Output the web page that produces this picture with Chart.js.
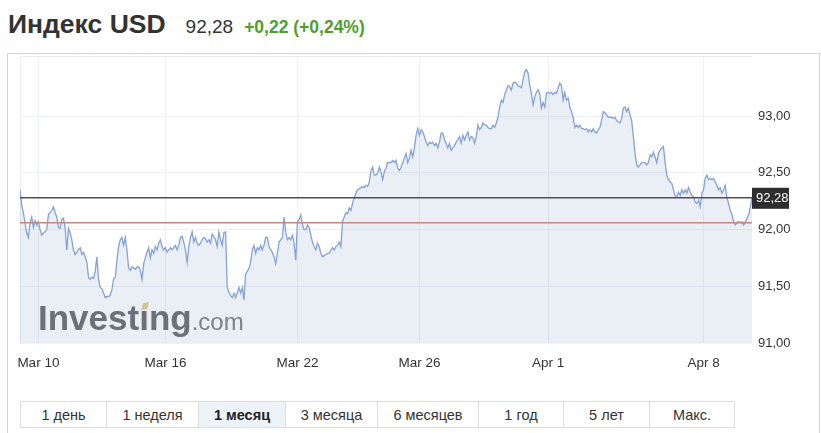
<!DOCTYPE html>
<html>
<head>
<meta charset="utf-8">
<script src="https://cdn.jsdelivr.net/npm/chart.js"></script>
<style>
    html, body {
        margin: 0;
        padding: 0;
        background: #fff;
    }

    body {
        position: relative;
        width: 821px;
        height: 433px;
        overflow: hidden;
        font-family: "Liberation Sans", Arial, sans-serif;
        color: #333;
    }

    .head {
        position: absolute;
        left: 8px;
        top: 9px;
        font-size: 26.5px;
        line-height: 30px;
        white-space: nowrap;
    }

    .head .name { font-size: 26.5px; font-weight: bold; color: #333; }
    .head .last { font-size: 19px; margin-left: 20px; color: #333; }
    .head .chg { font-size: 17.5px; font-weight: bold; margin-left: 11px; color: #4f9f2a; }

    .panel {
        position: absolute;
        left: 7px;
        top: 53px;
        width: 813px;
        height: 400px;
        border: 1px solid #d4d4d4;
        box-sizing: border-box;
    }

    #chart {
        position: absolute;
        left: 7px;
        top: 54px;
    }

    .periods {
        position: absolute;
        left: 20px;
        top: 401px;
        height: 27px;
        display: flex;
        border: 1px solid #dcdcdc;
        box-sizing: border-box;
    }

    .periods div {
        height: 25px;
        line-height: 27px;
        text-align: center;
        font-size: 14.5px;
        color: #333;
        border-left: 1px solid #dcdcdc;
        box-sizing: border-box;
    }

    .periods div:first-child { border-left: none; }
    .periods div.on { background: #eef3f9; font-weight: bold; color: #222; }
    .periods div:nth-child(1) { width: 85px; }
    .periods div:nth-child(2) { width: 92px; }
    .periods div:nth-child(3) { width: 87px; }
    .periods div:nth-child(4) { width: 92px; }
    .periods div:nth-child(5) { width: 101px; }
    .periods div:nth-child(6) { width: 85px; }
    .periods div:nth-child(7) { width: 86px; }
    .periods div:nth-child(8) { width: 85px; }
</style>
</head>
<body>
<div class="head">
    <span class="name">Индекс USD</span><span class="last" id="last"></span><span class="chg" id="chg"></span>
</div>
<div class="panel"></div>
<canvas id="chart" width="813" height="329"></canvas>
<div class="periods" id="periods"></div>

<script>
    // hourly closes, Mar 9 evening .. Apr 9
    const closeValues = [
        92.35, 92.22, 92.15, 92.06, 91.97, 91.93, 92.06, 92.11, 92.02, 92.08,
        92.04, 92.07, 92.00, 91.95, 91.97, 91.98, 92.00, 92.13, 92.15, 92.17,
        92.20, 92.15, 92.11, 92.02, 92.01, 92.09, 92.10, 92.02, 91.82, 92.01,
        91.97, 91.91, 91.82, 91.78, 91.80, 91.82, 91.84, 91.78, 91.80, 91.76,
        91.71, 91.58, 91.56, 91.58, 91.57, 91.63, 91.76, 91.56, 91.49, 91.48,
        91.44, 91.40, 91.41, 91.41, 91.42, 91.47, 91.56, 91.58, 91.73, 91.85,
        91.91, 91.93, 91.86, 91.93, 91.82, 91.66, 91.64, 91.67, 91.66, 91.65,
        91.67,
        // Mar 15 - Mar 19
        91.67, 91.64, 91.56, 91.70, 91.75, 91.80, 91.84, 91.75, 91.82, 91.79,
        91.85, 91.82, 91.88, 91.91, 91.85, 91.82, 91.84, 91.80, 91.82, 91.84,
        91.82, 91.84, 91.86, 91.82, 91.86, 91.93, 91.94, 91.89, 91.82, 91.71,
        91.85, 91.93, 91.98, 91.89, 91.93, 91.88, 91.86, 91.88, 91.91, 91.93,
        91.92, 91.89, 91.91, 91.88, 91.96, 91.94, 91.91, 91.85, 91.98, 91.91,
        91.86, 91.97, 91.98, 91.49, 91.45, 91.42, 91.40, 91.44, 91.40, 91.44,
        91.49, 91.44, 91.49, 91.38, 91.61, 91.63, 91.66, 91.71, 91.82, 91.86,
        91.79, 91.84, 91.82, 91.86, 91.82, 91.86, 91.93, 91.93,
        // Mar 19 - Mar 25
        91.85, 91.82, 91.80, 91.76, 91.70, 91.79, 91.89, 91.91, 91.93, 92.11,
        91.98, 91.91, 91.93, 91.91, 91.95, 91.88, 91.73, 92.07, 92.09, 92.13,
        92.04, 92.00, 92.00, 92.04, 92.02, 91.95, 91.89, 91.85, 91.82, 91.88,
        91.85, 91.79, 91.76, 91.77, 91.78, 91.79, 91.79, 91.82, 91.84, 91.82,
        91.85, 91.86, 91.89, 91.85, 92.07, 92.11, 92.15, 92.14, 92.19, 92.17,
        92.23, 92.28, 92.32, 92.35, 92.36, 92.37, 92.38, 92.37, 92.39, 92.38,
        92.42, 92.52, 92.55, 92.48, 92.48, 92.50, 92.55, 92.51, 92.44, 92.51,
        92.54, 92.59, 92.59,
        // Mar 25 - Mar 31
        92.59, 92.61, 92.59, 92.61, 92.54, 92.52, 92.55, 92.59, 92.63, 92.67,
        92.59, 92.63, 92.70, 92.64, 92.72, 92.83, 92.89, 92.83, 92.88, 92.86,
        92.82, 92.77, 92.74, 92.77, 92.76, 92.77, 92.74, 92.76, 92.72, 92.77,
        92.85, 92.85, 92.79, 92.76, 92.72, 92.76, 92.70, 92.72, 92.74, 92.77,
        92.79, 92.82, 92.76, 92.83, 92.79, 92.83, 92.86, 92.79, 92.82, 92.81,
        92.76, 92.82, 92.92, 92.88, 92.90, 92.94, 92.92, 92.92, 92.90, 92.89,
        92.89, 92.92, 92.90, 92.94, 92.99, 93.08, 93.14, 93.12, 93.19, 93.23,
        93.27, 93.26, 93.23, 93.29,
        // Mar 31 - Apr 6
        93.30, 93.29, 93.27, 93.26, 93.25, 93.32, 93.39, 93.41, 93.38, 93.27,
        93.20, 93.10, 93.17, 93.21, 93.23, 93.20, 93.07, 93.12, 93.08, 93.20,
        93.21, 93.20, 93.21, 93.19, 93.21, 93.20, 93.25, 93.29, 93.27, 93.14,
        93.21, 93.14, 93.16, 93.08, 93.04, 92.99, 92.90, 92.92, 92.90, 92.92,
        92.89, 92.89, 92.88, 92.89, 92.86, 92.88, 92.86, 92.89, 92.86, 92.85,
        92.88, 92.90, 92.96, 93.04, 93.03, 93.01, 92.99, 92.99, 92.99, 92.98,
        92.99, 92.96, 92.95, 92.94, 92.98, 93.07, 93.08, 93.04, 93.07, 93.01,
        92.96, 92.82,
        // Apr 6 - Apr 9
        92.67, 92.57, 92.55, 92.57, 92.59, 92.59, 92.59, 92.57, 92.59, 92.66,
        92.64, 92.68, 92.64, 92.59, 92.67, 92.70, 92.72, 92.73, 92.59, 92.48,
        92.44, 92.42, 92.41, 92.35, 92.30, 92.29, 92.33, 92.30, 92.35, 92.32,
        92.35, 92.32, 92.37, 92.33, 92.30, 92.29, 92.24, 92.23, 92.26, 92.20,
        92.32, 92.35, 92.45, 92.48, 92.44, 92.45, 92.44, 92.45, 92.42, 92.39,
        92.35, 92.37, 92.32, 92.35, 92.39, 92.28, 92.23, 92.17, 92.13, 92.07,
        92.04, 92.06, 92.07, 92.06, 92.07, 92.04, 92.07, 92.10, 92.13, 92.20,
        92.28
    ];

    const tickIndex = [11, 87, 166, 239, 316, 409];
    const tickLabels = ['Mar 10', 'Mar 16', 'Mar 22', 'Mar 26', 'Apr 1', 'Apr 8'];
    const yTicks = [91, 91.5, 92, 92.5, 93];
    const yMin = 91;
    const yMax = 93.53;

    const lastPrice = 92.28;
    const prevClose = 92.06;

    const periods = ['1 день', '1 неделя', '1 месяц', '3 месяца', '6 месяцев', '1 год', '5 лет', 'Макс.'];
    const activePeriod = '1 месяц';

    const FONT = '"Liberation Sans", Arial, sans-serif';
    const fmt = v => v.toFixed(2).replace('.', ',');

    // header
    const chg = lastPrice - prevClose;
    const pct = chg / prevClose * 100;
    const sign = v => (v >= 0 ? '+' : '');
    document.getElementById('last').textContent = fmt(lastPrice);
    document.getElementById('chg').textContent =
        sign(chg) + fmt(chg) + ' (' + sign(pct) + fmt(pct) + '%)';

    // period buttons
    const bar = document.getElementById('periods');
    periods.forEach(p => {
        const d = document.createElement('div');
        d.textContent = p;
        if (p === activePeriod) d.className = 'on';
        bar.appendChild(d);
    });

    const overlay = {
        id: 'overlay',
        beforeDatasetsDraw(chart) {
            const { ctx, chartArea } = chart;
            ctx.save();
            // watermark
            const wx = chartArea.left + 18;
            const wy = chartArea.bottom - 13;
            ctx.font = 'bold 35px ' + FONT;
            ctx.fillStyle = '#727272';
            ctx.textBaseline = 'alphabetic';
            ctx.fillText('Investıng', wx, wy);
            const w1 = ctx.measureText('Investıng').width;
            const wi = ctx.measureText('Invest').width;
            ctx.fillStyle = '#e3d38b';
            ctx.beginPath();
            ctx.moveTo(wx + wi + 2, wy - 20);
            ctx.lineTo(wx + wi + 4, wy - 27);
            ctx.lineTo(wx + wi + 10, wy - 28);
            ctx.lineTo(wx + wi + 8, wy - 21);
            ctx.closePath();
            ctx.fill();
            ctx.font = '24px ' + FONT;
            ctx.fillStyle = '#858585';
            ctx.fillText('.com', wx + w1, wy);

            // faint frame
            ctx.strokeStyle = '#ececec';
            ctx.lineWidth = 1;
            ctx.beginPath();
            ctx.moveTo(chartArea.left + 0.5, chartArea.bottom);
            ctx.lineTo(chartArea.left + 0.5, chartArea.top + 0.5);
            ctx.lineTo(chartArea.right, chartArea.top + 0.5);
            ctx.stroke();
            ctx.restore();
        },
        afterDraw(chart) {
            const { ctx, chartArea, scales } = chart;
            ctx.save();
            const yl = scales.y.getPixelForValue(lastPrice);
            const yp = scales.y.getPixelForValue(prevClose);
            ctx.lineWidth = 1.6;
            ctx.strokeStyle = '#c98383';
            ctx.beginPath();
            ctx.moveTo(chartArea.left, yp);
            ctx.lineTo(chartArea.right, yp);
            ctx.stroke();
            ctx.strokeStyle = '#505050';
            ctx.beginPath();
            ctx.moveTo(chartArea.left, yl);
            ctx.lineTo(chartArea.right, yl);
            ctx.stroke();

            // last price tag
            ctx.fillStyle = '#2e2e2e';
            ctx.fillRect(chartArea.right, yl - 10, 37, 21);
            ctx.fillStyle = '#fff';
            ctx.font = '13px ' + FONT;
            ctx.textBaseline = 'middle';
            ctx.fillText(fmt(lastPrice), chartArea.right + 4, yl + 1);
            ctx.restore();
        }
    };

    const ctx = document.getElementById('chart').getContext('2d');
    const chart = new Chart(ctx, {
        type: 'line',
        data: {
            datasets: [{
                data: closeValues.map((v, i) => ({ x: i, y: v })),
                borderColor: '#84a2d3',
                borderWidth: 1.3,
                backgroundColor: 'rgba(60,110,175,0.11)',
                fill: 'start',
                pointRadius: 0,
                tension: 0
            }]
        },
        options: {
            responsive: false,
            animation: false,
            layout: { padding: { left: 13, right: 6, top: 2, bottom: 0 } },
            plugins: {
                legend: { display: false },
                tooltip: { enabled: false }
            },
            scales: {
                x: {
                    type: 'linear',
                    min: 0,
                    max: closeValues.length - 1,
                    z: 1,
                    border: { display: false },
                    grid: { color: '#eef1f5', drawTicks: false },
                    ticks: {
                        autoSkip: false,
                        maxRotation: 0,
                        padding: 12,
                        color: '#333',
                        font: { family: FONT, size: 13.5 },
                        callback: v => {
                            const k = tickIndex.indexOf(v);
                            return k >= 0 ? tickLabels[k] : '';
                        }
                    },
                    afterBuildTicks: s => { s.ticks = tickIndex.map(v => ({ value: v })); },
                    afterFit: s => { s.height = 40; s.paddingLeft = 0; s.paddingRight = 0; }
                },
                y: {
                    position: 'right',
                    min: yMin,
                    max: yMax,
                    z: 1,
                    border: { display: false },
                    grid: { color: '#eef1f5', drawTicks: false },
                    ticks: {
                        padding: 6,
                        color: '#333',
                        font: { family: FONT, size: 13 },
                        callback: v => fmt(v)
                    },
                    afterBuildTicks: s => { s.ticks = yTicks.map(v => ({ value: v })); },
                    afterFit: s => { s.width = 62; s.paddingTop = 0; s.paddingBottom = 0; }
                }
            }
        },
        plugins: [overlay]
    });
</script>
</body>
</html>
